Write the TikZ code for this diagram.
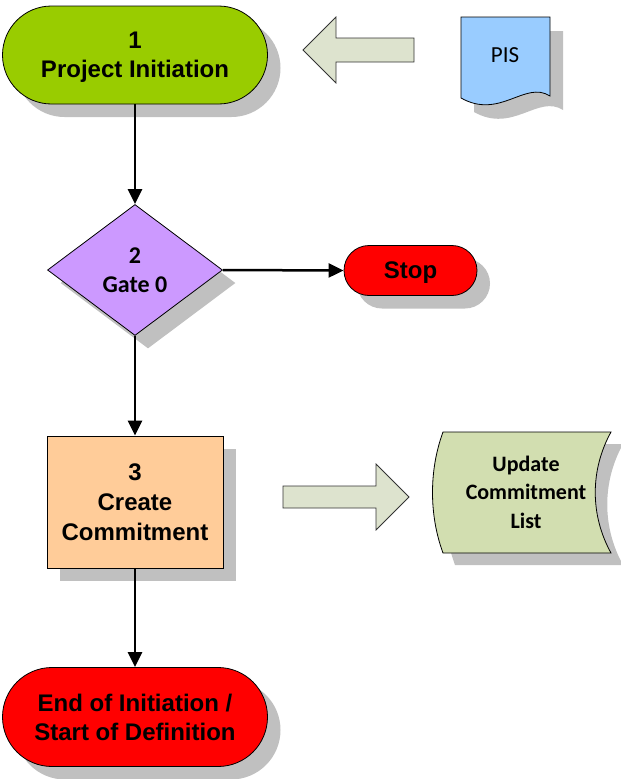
\documentclass[tikz,border=0pt]{standalone}
\usepackage{fontspec}
\setmainfont{Liberation Sans}
\newfontfamily\calibri{Carlito}
\usetikzlibrary{shapes.geometric,shadows,arrows.meta}
\definecolor{shd}{HTML}{C0C0C0}
\definecolor{greenA}{HTML}{99CC00}
\definecolor{purpleA}{HTML}{CC99FF}
\definecolor{orangeA}{HTML}{FFCC99}
\definecolor{redA}{HTML}{FF0000}
\definecolor{blueA}{HTML}{99CCFF}
\definecolor{listA}{HTML}{D2DEB0}
\definecolor{arrowA}{HTML}{DDE3CE}
\begin{document}
\begin{tikzpicture}[x=1pt,y=-1pt]
\useasboundingbox (0,0) rectangle (621,779);
\tikzset{
 shad/.style={drop shadow={shadow xshift=13pt,shadow yshift=-13pt,fill=shd,opacity=1}},
 term/.style={draw=black, line width=0.8pt, rectangle, rounded corners=#1, inner sep=0pt, align=center,
   text depth=0pt, font=\bfseries\fontsize{24}{29}\selectfont, shad},
 conn/.style={line width=2.5pt, -{Triangle[length=15pt,width=14pt]}},
 blockarrow/.style={draw=black!80, fill=arrowA, line width=0.8pt},
 outline/.style={draw=black, line width=0.8pt},
 shadowfill/.style={fill=shd, draw=none},
}
% terminal 1
\node[term=49pt, fill=greenA, minimum width=265pt, minimum height=98pt] (t1) at (135,55) {1\\Project Initiation};
% block arrow left
\draw[blockarrow] (303,50) -- (336,17) -- (336,38) -- (414,38) -- (414,62) -- (336,62) -- (336,83) -- cycle;
% PIS document
\fill[shadowfill, shift={(13,14)}] (461,17) -- (550,17) -- (550,96) .. controls (525,80) and (500,120) .. (461,98) -- cycle;
\draw[outline, fill=blueA] (461,17) -- (550,17) -- (550,96) .. controls (525,80) and (500,120) .. (461,98) -- cycle;
\node[font=\calibri\fontsize{23}{28}\selectfont] (pis) at (505,55) {PIS};
% diamond
\node[diamond, draw=black, line width=0.8pt, fill=purpleA, minimum width=175pt, minimum height=131pt, inner sep=0pt,
  aspect=1.336, shad, align=center, font=\calibri\bfseries\fontsize{24}{29}\selectfont] (d2) at (135,270) {2\\Gate 0};
% stop
\node[term=25pt, fill=redA, minimum width=133pt, minimum height=50pt] (stop) at (410.5,270.5) {Stop};
% box 3
\node[rectangle, draw=black, line width=0.8pt, fill=orangeA, minimum width=176pt, minimum height=132pt, inner sep=0pt,
  shad, align=center, font=\bfseries\fontsize{24}{30}\selectfont] (b3) at (135,502) {3\\Create\\Commitment};
% block arrow right
\draw[blockarrow] (283,486) -- (376,486) -- (376,464) -- (409,497) -- (376,530) -- (376,508) -- (283,508) -- cycle;
% update commitment list
\fill[shadowfill, shift={(12,12)}] (443,432) -- (611,432) .. controls (590,470) and (590,515) .. (611,553) -- (443,553) .. controls (429,515) and (429,470) .. (443,432) -- cycle;
\draw[outline, fill=listA] (443,432) -- (611,432) .. controls (590,470) and (590,515) .. (611,553) -- (443,553) .. controls (429,515) and (429,470) .. (443,432) -- cycle;
\node[align=center, font=\calibri\bfseries\fontsize{22}{28.5}\selectfont] (upd) at (526,492) {Update\\Commitment\\List};
% end terminal
\node[term=49.5pt, fill=redA, minimum width=265pt, minimum height=99pt] (endt) at (135,717) {End of Initiation /\\Start of Definition};
% connectors
\draw[conn] (t1.south) -- (d2.north);
\draw[conn] (d2.east) -- (stop.west);
\draw[conn] (d2.south) -- (b3.north);
\draw[conn] (b3.south) -- (endt.north);
\end{tikzpicture}
\end{document}
